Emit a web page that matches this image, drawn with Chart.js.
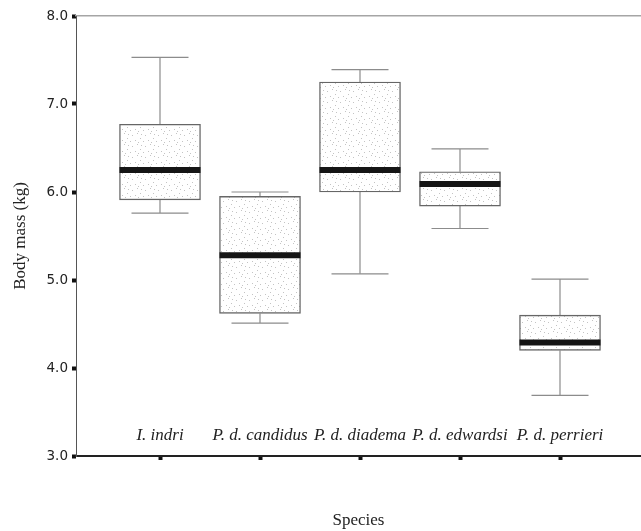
<!DOCTYPE html>
<html>
<head>
<meta charset="utf-8">
<script src="https://cdn.jsdelivr.net/npm/chart.js@4"></script>
<style>
  body { margin: 0; background: #fff; }
  #wrap { width: 641px; height: 531px; }
</style>
</head>
<body>
<div id="wrap"><canvas id="massChart" width="641" height="531"></canvas></div>
<script>
// box plot values (kg)
const species = ['I. indri', 'P. d. candidus', 'P. d. diadema', 'P. d. edwardsi', 'P. d. perrieri'];
const positions = [1, 2, 3, 4, 5];
const whiskerLow = [5.76, 4.51, 5.07, 5.585, 3.69];
const q1 = [5.91, 4.62, 6.00, 5.84, 4.20];
const medians = [6.25, 5.28, 6.25, 6.09, 4.29];
const q3 = [6.77, 5.95, 7.25, 6.23, 4.60];
const whiskerHigh = [7.53, 6.00, 7.39, 6.49, 5.01];
const yTicks = [3, 4, 5, 6, 7, 8];

const BOX_HALF = 0.405;   // half box width in x units
const CAP_HALF = 0.285;   // half cap width in x units
const X_MIN = 0.16, X_MAX = 5.81;

// light stipple for the boxes
function stipple() {
  const c = document.createElement('canvas');
  c.width = 13; c.height = 11;
  const g = c.getContext('2d');
  g.fillStyle = '#ffffff';
  g.fillRect(0, 0, 13, 11);
  g.fillStyle = '#c4c4c4';
  [[2, 3], [7, 1], [10, 6], [5, 8], [0, 9], [11, 2], [8, 10]].forEach(p => g.fillRect(p[0], p[1], 1, 1));
  return g.createPattern(c, 'repeat');
}

function segments(fn) {
  const pts = [];
  positions.forEach((p, i) => {
    fn(p, i).forEach(pt => pts.push(pt));
    pts.push({ x: p, y: null });
  });
  return pts;
}

const whiskerData = segments((p, i) => [
  { x: p, y: whiskerLow[i] }, { x: p, y: q1[i] }, { x: p, y: null },
  { x: p, y: q3[i] }, { x: p, y: whiskerHigh[i] }
]);
const capData = segments((p, i) => [
  { x: p - CAP_HALF, y: whiskerLow[i] }, { x: p + CAP_HALF, y: whiskerLow[i] }, { x: p, y: null },
  { x: p - CAP_HALF, y: whiskerHigh[i] }, { x: p + CAP_HALF, y: whiskerHigh[i] }
]);
const medianData = segments((p, i) => [
  { x: p - BOX_HALF, y: medians[i] }, { x: p + BOX_HALF, y: medians[i] }
]);
const boxData = positions.map((p, i) => ({ x: p, y: [q1[i], q3[i]] }));

const lineBase = { type: 'line', pointRadius: 0, fill: false, tension: 0, spanGaps: false, borderCapStyle: 'butt' };

new Chart(document.getElementById('massChart'), {
  type: 'bar',
  data: {
    datasets: [
      Object.assign({}, lineBase, { data: medianData, borderColor: '#151515', borderWidth: 6, order: 0 }),
      Object.assign({}, lineBase, { data: capData, borderColor: '#8c8c8c', borderWidth: 1.2, order: 1 }),
      {
        type: 'bar', data: boxData, backgroundColor: stipple(), borderColor: '#666',
        borderWidth: 1.4, borderSkipped: false, barThickness: 81, order: 2
      },
      Object.assign({}, lineBase, { data: whiskerData, borderColor: '#8c8c8c', borderWidth: 1.2, order: 3 })
    ]
  },
  options: {
    responsive: false,
    animation: false,
    layout: { padding: { top: 16, right: 0, bottom: 0, left: 0 } },
    plugins: { legend: { display: false }, tooltip: { enabled: false } },
    scales: {
      x: {
        type: 'linear',
        position: 'bottom',
        offset: false,
        min: X_MIN,
        max: X_MAX,
        afterBuildTicks: s => { s.ticks = positions.map(v => ({ value: v })); },
        afterFit: s => { s.height = 75; },
        grid: { offset: false, drawOnChartArea: false, drawTicks: true, tickLength: 4, tickWidth: 4, tickColor: '#111' },
        border: { color: '#222', width: 2 },
        ticks: {
          mirror: true,
          autoSkip: false,
          maxRotation: 0,
          padding: 10,
          color: '#222',
          font: { family: '"Liberation Serif", "Times New Roman", serif', size: 17, style: 'italic' },
          callback: v => species[positions.indexOf(v)] || ''
        },
        title: {
          display: true,
          text: 'Species',
          color: '#222',
          padding: { top: 0, bottom: 0 },
          font: { family: '"Liberation Serif", "Times New Roman", serif', size: 17 }
        }
      },
      xTop: {
        type: 'linear',
        position: 'top',
        offset: false,
        min: X_MIN,
        max: X_MAX,
        afterFit: s => { s.height = 0; },
        grid: { display: false },
        ticks: { display: false },
        border: { display: true, color: '#a5a5a5', width: 1.5 }
      },
      y: {
        min: 3,
        max: 8,
        afterBuildTicks: s => { s.ticks = yTicks.map(v => ({ value: v })); },
        afterFit: s => { s.width = 76; },
        grid: { drawOnChartArea: false, drawTicks: true, tickLength: 4, tickWidth: 4, tickColor: '#111' },
        border: { color: '#555', width: 1 },
        ticks: {
          padding: 4,
          color: '#222',
          font: { family: '"DejaVu Sans", sans-serif', size: 13.5 },
          callback: v => v.toFixed(1)
        },
        title: {
          display: true,
          text: 'Body mass (kg)',
          color: '#222',
          padding: { top: 10, bottom: 0 },
          font: { family: '"Liberation Serif", "Times New Roman", serif', size: 17 }
        }
      }
    }
  }
});
</script>
</body>
</html>
